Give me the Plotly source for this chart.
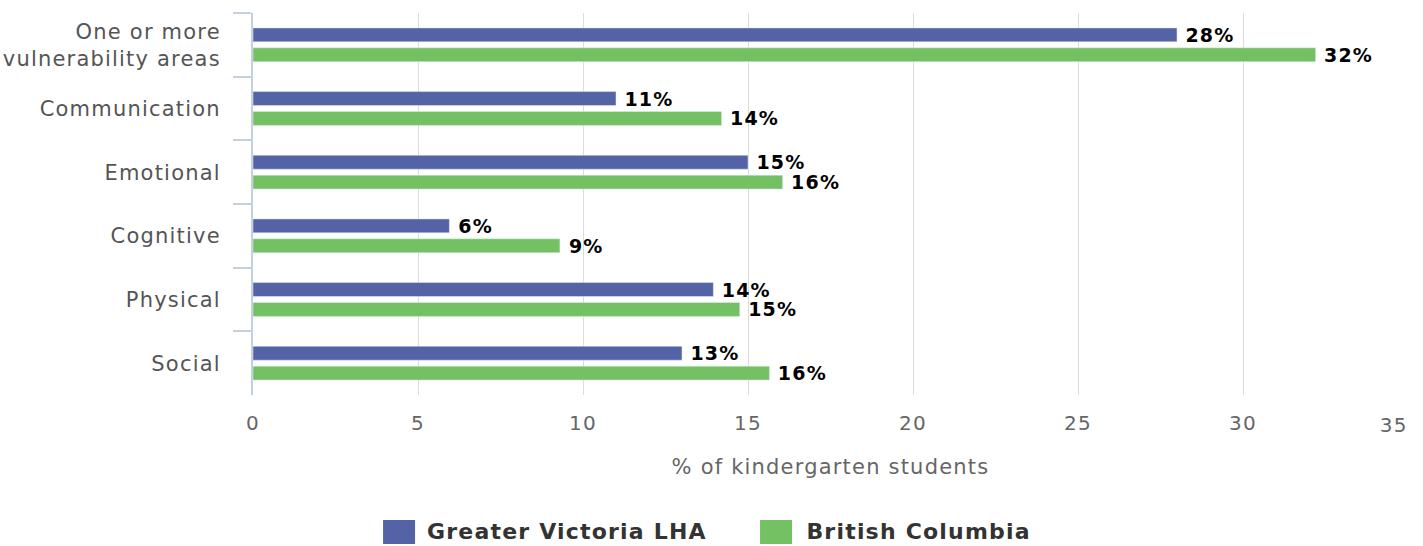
import plotly.graph_objects as go

categories = ["One or more<br>vulnerability areas", "Communication", "Emotional",
              "Cognitive", "Physical", "Social"]
victoria = [28.0, 11.0, 15.0, 5.95, 13.95, 13.0]
bc = [32.2, 14.2, 16.05, 9.3, 14.75, 15.65]
victoria_labels = ["28%", "11%", "15%", "6%", "14%", "13%"]
bc_labels = ["32%", "14%", "16%", "9%", "15%", "16%"]
series_names = ["Greater Victoria LHA", "British Columbia"]
series_colors = ["#5462a6", "#73c163"]
x_ticks = [0, 5, 10, 15, 20, 25, 30, 35]

font_family = "DejaVu Sans"
label_font = dict(family=font_family, size=19, color="#000000", weight="bold")

fig = go.Figure()
for name, vals, labels, color in zip(series_names, [victoria, bc],
                                     [victoria_labels, bc_labels], series_colors):
    fig.add_trace(go.Bar(
        y=categories, x=vals, orientation="h", name=name,
        marker_color=color, text=[" " + l for l in labels], textposition="outside",
        textfont=label_font, constraintext="none", cliponaxis=False,
        showlegend=False,
    ))

# x tick labels, last one right-aligned inside the plot edge
tick_text = [str(t) for t in x_ticks[:-1]] + [""]
fig.add_annotation(x=x_ticks[-1], xref="x", xanchor="right", y=-0.0785, yref="paper",
                   yanchor="middle", text=str(x_ticks[-1]), showarrow=False,
                   font=dict(size=20, color="#666666"))

# custom legend with larger swatches
legend_pos = [(0.1126, 0.1593), (0.4390, 0.4857)]
for (sx, tx), name, color in zip(legend_pos, series_names, series_colors):
    fig.add_shape(type="rect", xref="paper", yref="paper",
                  x0=sx, x1=sx + 0.0277, y0=-0.327, y1=-0.390,
                  fillcolor=color, line_width=0)
    fig.add_annotation(x=tx, xref="paper", xanchor="left", y=-0.3586, yref="paper",
                       yanchor="middle", text=name, showarrow=False,
                       font=dict(size=22, color="#333333", weight="bold"))

fig.update_layout(
    width=1423, height=546,
    margin=dict(l=253, r=15, t=13, b=151),
    plot_bgcolor="white", paper_bgcolor="white",
    barmode="group", bargap=0.375, bargroupgap=0.3,
    font=dict(family=font_family, size=20, color="#555555"),
    showlegend=False,
)
fig.update_xaxes(
    range=[0, 35], tickvals=x_ticks, ticktext=tick_text, showgrid=True,
    gridcolor="#dcdcdc", gridwidth=1, automargin=False,
    zeroline=False, showline=False, ticks="", ticklabelstandoff=14,
    tickfont=dict(size=20, color="#666666"),
    title=dict(text="% of kindergarten students", font=dict(size=21, color="#666666"), standoff=25),
)
fig.update_yaxes(
    autorange="reversed", showline=True, linecolor="#c3d0e0", linewidth=2,
    ticks="outside", tickson="boundaries", ticklen=18, tickcolor="#c3d0e0", tickwidth=2,
    tickfont=dict(size=21, color="#555555"), showgrid=False, automargin=False,
    ticklabelstandoff=26,
)

post = ("document.body.style.margin='0';"
        "document.querySelectorAll('.main-svg text').forEach(function(t){"
        "t.style.letterSpacing='1.2px';});")
fig.write_html("out.html", post_script=post, config={"displayModeBar": False})
